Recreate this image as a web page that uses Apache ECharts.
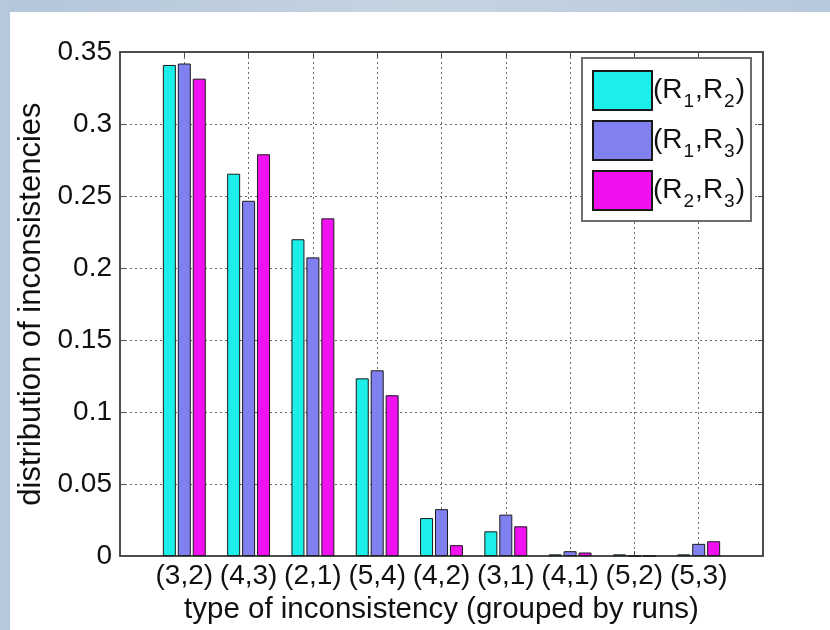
<!DOCTYPE html>
<html>
<head>
<meta charset="utf-8">
<script src="https://cdn.jsdelivr.net/npm/echarts@6/dist/echarts.min.js"></script>
<style>
  html, body { margin: 0; padding: 0; background: #ffffff; }
  #chart { width: 830px; height: 630px; }
</style>
</head>
<body>
<div id="chart"></div>
<script>
// Inconsistency types, grouped by runs
const categories = ['(3,2)', '(4,3)', '(2,1)', '(5,4)', '(4,2)', '(3,1)', '(4,1)', '(5,2)', '(5,3)'];

// Distribution of inconsistencies for each pair of runs
const pairR1R2 = [0.341, 0.2655, 0.220, 0.1234, 0.0264, 0.0172, 0.0012, 0.0012, 0.0012];
const pairR1R3 = [0.342, 0.2467, 0.2074, 0.129, 0.0326, 0.0288, 0.0034, 0.0, 0.0085];
const pairR2R3 = [0.3315, 0.279, 0.2345, 0.1117, 0.0076, 0.0207, 0.0025, 0.0, 0.0103];

// Legend labels: [first run index, second run index]
const pairLabels = [['1', '2'], ['1', '3'], ['2', '3']];
const pairColors = ['#1ceeea', '#8080f0', '#f010f0'];

const yMin = 0, yMax = 0.35, yStep = 0.05;

const FONT = '"Liberation Sans", Arial, Helvetica, sans-serif';
const TEXT = '#111111';
const FRAME = '#4d4d4d';

const chart = echarts.init(document.getElementById('chart'), null, { renderer: 'canvas' });

const seriesData = [pairR1R2, pairR1R3, pairR2R3];
const names = pairLabels.map(p => 'R' + p[0] + 'R' + p[1]);

const gridLine = { show: true, lineStyle: { color: '#6a6a6a', width: 1, type: [2, 3] } };

chart.setOption({
  backgroundColor: '#ffffff',
  animation: false,
  graphic: [
    {
      type: 'rect', left: 0, top: 0, z: -10,
      shape: { width: 830, height: 12 },
      style: {
        fill: new echarts.graphic.LinearGradient(0, 0, 1, 0, [
          { offset: 0, color: '#b3c6da' },
          { offset: 0.5, color: '#c6d4e2' },
          { offset: 1, color: '#b7c9dc' }
        ])
      }
    },
    {
      type: 'rect', left: 0, top: 0, z: -10,
      shape: { width: 10, height: 630 },
      style: { fill: '#b5c8dc' }
    }
  ],
  grid: { left: 120, right: 67, top: 52, bottom: 70, containLabel: false },
  legend: {
    orient: 'vertical',
    left: 582, top: 58,
    padding: [12, 6, 10, 10],
    itemGap: 9,
    itemWidth: 59,
    itemHeight: 39,
    icon: 'rect',
    backgroundColor: '#ffffff',
    borderColor: '#6e6e6e',
    borderWidth: 2,
    data: names,
    formatter: function (name) {
      const i = names.indexOf(name);
      const p = pairLabels[i];
      return '{m|(R}{s|' + p[0] + '}{m|,R}{s|' + p[1] + '}{m|)}';
    },
    textStyle: {
      padding: [0, 0, 0, -4],
      rich: {
        m: { fontFamily: FONT, fontSize: 28, color: TEXT, lineHeight: 30 },
        s: { fontFamily: FONT, fontSize: 19, color: TEXT, lineHeight: 20, padding: [22, 1, 0, 1] }
      }
    }
  },
  xAxis: [
    {
      type: 'value', min: 0, max: 10, interval: 1,
      name: 'type of inconsistency (grouped by runs)',
      nameLocation: 'middle', nameGap: 33,
      nameTextStyle: { fontFamily: FONT, fontSize: 29.5, color: TEXT },
      axisLine: { show: true, onZero: false, lineStyle: { color: FRAME, width: 2 } },
      axisTick: { show: true, inside: true, length: 5, lineStyle: { color: FRAME, width: 1 } },
      axisLabel: {
        fontFamily: FONT, fontSize: 28, color: TEXT, margin: 6,
        formatter: v => categories[v - 1] || ''
      },
      splitLine: gridLine
    },
    {
      type: 'value', min: 0, max: 10, interval: 1, position: 'top',
      axisLine: { show: true, onZero: false, lineStyle: { color: FRAME, width: 2 } },
      axisTick: { show: true, inside: true, length: 5, lineStyle: { color: FRAME, width: 1 } },
      axisLabel: { show: false },
      splitLine: { show: false }
    }
  ],
  yAxis: [
    {
      type: 'value', min: yMin, max: yMax, interval: yStep,
      name: 'distribution of inconsistencies',
      nameLocation: 'middle', nameGap: 69,
      nameTextStyle: { fontFamily: FONT, fontSize: 31, color: TEXT },
      axisLine: { show: true, onZero: false, lineStyle: { color: FRAME, width: 2 } },
      axisTick: { show: true, inside: true, length: 5, lineStyle: { color: FRAME, width: 1 } },
      axisLabel: { fontFamily: FONT, fontSize: 28, color: TEXT, margin: 8 },
      splitLine: gridLine
    },
    {
      type: 'value', min: yMin, max: yMax, interval: yStep, position: 'right',
      axisLine: { show: true, onZero: false, lineStyle: { color: FRAME, width: 2 } },
      axisTick: { show: true, inside: true, length: 5, lineStyle: { color: FRAME, width: 1 } },
      axisLabel: { show: false },
      splitLine: { show: false }
    }
  ],
  series: seriesData.map((vals, k) => ({
    name: names[k],
    type: 'bar',
    xAxisIndex: 0,
    yAxisIndex: 0,
    barWidth: 13,
    barGap: '15%',
    itemStyle: { color: pairColors[k], borderColor: '#1a1a1a', borderWidth: 1 },
    data: vals.map((v, i) => [i + 1, v])
  }))
});
</script>
</body>
</html>
